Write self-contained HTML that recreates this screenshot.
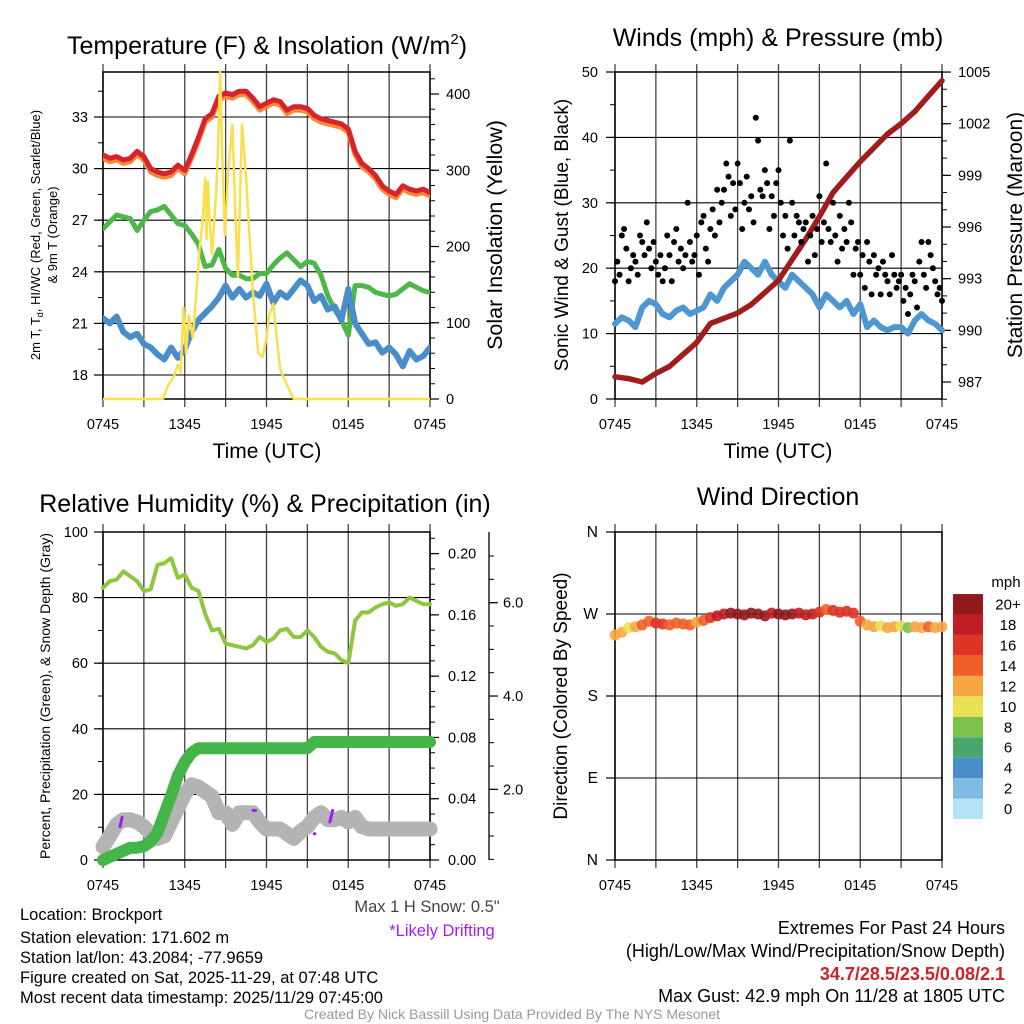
<!DOCTYPE html>
<html><head><meta charset="utf-8"><title>NYS Mesonet Brockport Meteogram</title>
<style>
html,body{margin:0;padding:0;background:#fff;}
svg{display:block;font-family:"Liberation Sans",Arial,sans-serif;}
</style></head>
<body>
<svg id="chart" xmlns="http://www.w3.org/2000/svg" width="1024" height="1024" viewBox="0 0 1024 1024">
<rect width="1024" height="1024" fill="#fff"/>
<g id="layer"></g>
<text x="267" y="54" font-size="25" text-anchor="middle">Temperature (F) &amp; Insolation (W/m<tspan dy="-10" font-size="15">2</tspan><tspan dy="10">)</tspan></text>
<text x="778" y="46" font-size="25" text-anchor="middle">Winds (mph) &amp; Pressure (mb)</text>
<text x="265" y="512" font-size="25" text-anchor="middle">Relative Humidity (%) &amp; Precipitation (in)</text>
<text x="778" y="505" font-size="25" text-anchor="middle">Wind Direction</text>
<text x="267" y="458" font-size="21" text-anchor="middle">Time (UTC)</text>
<text x="778" y="458" font-size="21" text-anchor="middle">Time (UTC)</text>
<text transform="translate(40,235) rotate(-90)" font-size="13" text-anchor="middle">2m T, T<tspan font-size="9" dy="3">d</tspan><tspan dy="-3">, HI/WC (Red, Green, Scarlet/Blue)</tspan></text>
<text transform="translate(57,235) rotate(-90)" font-size="13" text-anchor="middle">&amp; 9m T (Orange)</text>
<text transform="translate(502,235) rotate(-90)" font-size="21.5" text-anchor="middle">Solar Insolation (Yellow)</text>
<text transform="translate(568,235) rotate(-90)" font-size="19" text-anchor="middle">Sonic Wind &amp; Gust (Blue, Black)</text>
<text transform="translate(1022,235) rotate(-90)" font-size="21" text-anchor="middle">Station Pressure (Maroon)</text>
<text transform="translate(50,696) rotate(-90)" font-size="14" text-anchor="middle">Percent, Precipitation (Green), &amp; Snow Depth (Gray)</text>
<text transform="translate(567,696) rotate(-90)" font-size="19" text-anchor="middle">Direction (Colored By Speed)</text>
<text x="1006" y="587" font-size="15" text-anchor="middle">mph</text>
<g>
<g font-size="16.5">
<text x="20" y="920">Location: Brockport</text>
<text x="20" y="943">Station elevation: 171.602 m</text>
<text x="20" y="963">Station lat/lon: 43.2084; -77.9659</text>
<text x="20" y="983">Figure created on Sat, 2025-11-29, at 07:48 UTC</text>
<text x="20" y="1003">Most recent data timestamp: 2025/11/29 07:45:00</text>
<text x="427" y="912" text-anchor="middle" fill="#444">Max 1 H Snow: 0.5"</text>
<text x="442" y="936" text-anchor="middle" fill="#a020f0">*Likely Drifting</text>
</g>
<g font-size="18">
<text x="1005" y="934" text-anchor="end">Extremes For Past 24 Hours</text>
<text x="1005" y="957" text-anchor="end">(High/Low/Max Wind/Precipitation/Snow Depth)</text>
<text x="1005" y="980" text-anchor="end" fill="#cc2229" font-weight="bold">34.7/28.5/23.5/0.08/2.1</text>
<text x="1005" y="1002" text-anchor="end">Max Gust: 42.9 mph On 11/28 at 1805 UTC</text>
</g>
</g>
<text x="512" y="1019" font-size="14" text-anchor="middle" fill="#999">Created By Nick Bassill Using Data Provided By The NYS Mesonet</text>
</svg>
<script>
const timeLabels = ["0745","1345","1945","0145","0745"];
const hours49 = [0,0.5,1,1.5,2,2.5,3,3.5,4,4.5,5,5.5,6,6.5,7,7.5,8,8.5,9,9.5,10,10.5,11,11.5,12,12.5,13,13.5,14,14.5,15,15.5,16,16.5,17,17.5,18,18.5,19,19.5,20,20.5,21,21.5,22,22.5,23,23.5,24];
const tempRed = [30.8,30.6,30.7,30.5,30.6,31.0,30.7,30.0,29.8,29.7,29.8,30.2,29.9,30.8,31.8,32.9,33.2,34.2,34.4,34.3,34.5,34.5,34.1,33.6,33.8,34.0,33.9,33.4,33.6,33.6,33.5,33.1,32.9,32.8,32.7,32.6,32.3,31.0,30.3,30.0,29.6,29.0,28.7,28.5,29.0,28.8,28.7,28.8,28.6];
const temp9mOrange = [30.6,30.4,30.5,30.3,30.4,30.8,30.5,29.8,29.6,29.5,29.6,30.0,29.7,30.6,31.6,32.7,33.0,34.0,34.2,34.1,34.3,34.3,33.9,33.4,33.6,33.8,33.7,33.2,33.4,33.4,33.3,32.9,32.7,32.6,32.5,32.4,32.1,30.8,30.1,29.8,29.4,28.8,28.5,28.3,28.8,28.6,28.5,28.6,28.4];
const dewGreen = [26.5,26.9,27.3,27.2,27.1,26.4,27.0,27.5,27.6,27.8,27.3,26.8,26.7,26.2,25.6,24.3,24.4,25.3,24.2,23.8,23.8,23.6,23.6,23.9,23.9,24.4,24.8,25.1,24.7,24.3,24.6,24.5,23.8,22.6,21.8,21.2,20.3,23.2,23.2,23.1,22.8,22.7,22.6,22.7,23.0,23.3,23.1,22.9,22.8];
const windChillBlue = [21.3,21.0,21.4,20.5,20.2,20.4,19.8,19.6,19.2,18.9,19.6,19.0,19.5,20.5,21.2,21.6,22.0,22.5,23.2,22.5,23.0,22.5,22.8,22.6,23.3,22.2,22.8,22.5,23.0,23.5,23.2,22.3,22.6,21.8,22.0,21.2,23.0,21.0,20.4,19.8,19.9,19.3,19.6,19.2,18.5,19.4,18.9,19.1,19.6];
const solarHours = [0,4.4,4.7,5.2,5.5,5.7,5.9,6.1,6.3,6.6,6.9,7.1,7.3,7.5,7.6,7.7,7.8,8.0,8.3,8.45,8.6,8.75,8.95,9.2,9.5,9.7,9.9,10.2,10.5,10.7,11.0,11.4,11.7,12.0,12.2,12.5,12.7,13.0,13.2,13.6,14.0,24];
const solarVals = [0,0,15,30,45,35,120,60,110,80,150,200,230,290,210,285,240,190,270,330,430,320,215,300,360,250,160,360,290,230,140,60,55,80,110,125,90,40,30,15,0,0];
const hours25 = [0,1,2,3,4,5,6,7,8,9,10,11,12,13,14,15,16,17,18,19,20,21,22,23,24];
const pressureVals = [987.3,987.2,987.0,987.5,987.9,988.6,989.3,990.4,990.7,991.0,991.5,992.2,992.9,994.1,995.3,996.6,998.0,998.9,999.8,1000.6,1001.4,1002.0,1002.7,1003.6,1004.5];
const sonicWind = [11.5,12.5,12,11,14,15,14.5,13,12.5,13.5,14,13,13.5,14,16,15,17,18,19,21,20,19,21,19,18,17,19,18,17,16,14,16,15,14,15,13,14.5,11,12,11,10.5,11,11,10,12,13,12,11.5,10.5];
const gustVals = [18,21,19,25,26,23,18,20,22,21,19,25,24,22,27,23,20,24,21,19,22,18,20,25,22,18,24,26,21,23,20,22,30,24,21,22,25,19,27,28,23,21,26,29,25,32,27,30,32,36,34,28,33,29,36,33,26,30,34,29,31,27,43,39.5,32,31,35,33,26,31,28,33,35,30,25,28,23,39.5,30,25,28,27,24,26,27,21,25,28,22,26,31,24,27,36,26,24,30,25,21,28,23,26,24,30,27,19,23,24,19,22,17,24,21,16,22,19,20,16,21,19,18,16,22,19,17,18,19,15,17,13,16,19,18,14,21,24,19,17,24,22,20,18,16,17,15];
const rhVals = [83,85,85.5,88,86.5,85,82,82.5,90,90.5,92,86,87,83,82,75,70,70.5,66,65.5,65,64.5,65.5,68,66.5,67.5,70,70.5,68,68,70,68,65,63.5,63,61,60,73,75.5,75.5,77,78,78.5,77.5,78,80,79,78,78];
const precipVals = [0,0.002,0.004,0.006,0.008,0.008,0.009,0.012,0.018,0.030,0.042,0.055,0.064,0.070,0.073,0.073,0.073,0.073,0.073,0.073,0.073,0.073,0.073,0.073,0.073,0.073,0.073,0.073,0.073,0.073,0.073,0.077,0.077,0.077,0.077,0.077,0.077,0.077,0.077,0.077,0.077,0.077,0.077,0.077,0.077,0.077,0.077,0.077,0.077];
const snowVals = [0.77,1.0,1.25,1.35,1.35,1.3,1.2,1.05,0.95,1.0,1.3,1.6,1.9,2.1,2.05,1.95,1.85,1.5,1.5,1.25,1.5,1.5,1.5,1.3,1.15,1.15,1.15,1.05,0.95,1.1,1.2,1.4,1.5,1.35,1.35,1.4,1.3,1.4,1.2,1.15,1.15,1.15,1.15,1.15,1.15,1.15,1.15,1.15,1.15];
const driftHours = [1.25,1.4,11.0,11.2,15.5,15.55,16.65,16.85];
const driftVals = [1.2,1.4,1.55,1.55,1.05,1.05,1.3,1.55];
const dirVals = [247,250,255,256,258,262,260,259,258,260,259,258,261,263,266,268,270,271,270,269,271,270,268,271,270,269,270,271,269,270,272,275,274,272,273,271,262,258,256,257,255,256,257,255,256,255,256,255,256];
const dirSpeeds = [12,12,11,12,14,15,16,16,15,14,14,14,13,15,17,18,19,20,21,20,21,20,20,19,20,21,20,19,18,18,16,15,16,17,17,16,14,12,12,11,12,12,11,9,12,13,14,13,12];
const colorLevels = ["0","2","4","6","8","10","12","14","16","18","20+"];
const colorFills = ["#b7e3f7","#7fbae3","#4a8ec7","#4aa66f","#7cc24b","#e8e156","#f6a743","#ef6029","#dc3526","#be1e24","#921a1d"];

const NS = "http://www.w3.org/2000/svg";
const layer = document.getElementById("layer");
function mk(tag, attrs, parent){const e=document.createElementNS(NS,tag);for(const k in attrs)e.setAttribute(k,attrs[k]);(parent||layer).appendChild(e);return e;}
const xA = t => 103 + t*327/24;
const xB = t => 615 + t*327/24;
const yT = v => 375 - (v-18)*17.2;
const yS = v => 399 - v*0.7625;
const yW = v => 399 - v*6.54;
const yP = v => 382 - (v-987)*17.22;
const yR = v => 860 - v*3.28;
const yPr = v => 860 - v*1532;
const ySn = v => 882.7 - v*46.67;
const yD = v => 860 - v*328/360;

function path(ts, vs, xf, yf, color, w, name){
  let d="";ts.forEach((t,i)=>{d+=(i?"L":"M")+xf(t).toFixed(1)+","+yf(vs[i]).toFixed(1);});
  const p=mk("path",{d:d,fill:"none",stroke:color,"stroke-width":w,"stroke-linejoin":"round","stroke-linecap":"round"});
  
  
  return p;
}
function frame(x0,y0,w,h,name){
  const g=mk("g",{});
  
  
  for(let k=0;k<=8;k++){const x=x0+k*w/8;const l=mk("line",{x1:x,y1:y0-8,x2:x,y2:y0+h+8,stroke:"#444","stroke-width":1.3},g);
    
    }
  for(let k=0;k<5;k++){const tx=mk("text",{x:x0+k*w/4,y:y0+h+30,"font-size":14.5,"text-anchor":"middle"},g);tx.textContent=timeLabels[k];
    
    }
  mk("rect",{x:x0,y:y0,width:w,height:h,fill:"none",stroke:"#000","stroke-width":1.5},g);
  return g;
}
function yaxis(x, side, vals, yf, labels, minors, y0, y1, name, lx, fs){
  const g=mk("g",{});
  
  
  const dir = side==="left"?-1:1;
  minors.forEach(v=>{const y=yf(v);if(y<y0-0.5||y>y1+0.5)return;mk("line",{x1:x,y1:y,x2:x+dir*5,y2:y,stroke:"#000","stroke-width":1},g);});
  vals.forEach((v,i)=>{const y=yf(v);mk("line",{x1:x,y1:y,x2:x+dir*9,y2:y,stroke:"#000","stroke-width":1.2},g);
    const t=mk("text",{x:lx,y:y+5,"font-size":fs||14.5,"text-anchor":side==="left"?"end":"start"},g);t.textContent=labels[i];
    
    });
}
function hgrid(x0,w,ys){ys.forEach(y=>{const l=mk("line",{x1:x0,y1:y,x2:x0+w,y2:y,stroke:"#000","stroke-width":1.1});
  
  });}
function range(a,b,s){const r=[];for(let v=a;v<=b+1e-9;v+=s)r.push(+v.toFixed(4));return r;}

/* Panel 1: temperature */
frame(103,72,327,327,"temp-panel");
const tMaj=[18,21,24,27,30,33];
hgrid(103,327,tMaj.map(yT));
yaxis(103,"left",tMaj,yT,tMaj.map(String),range(16.5,34.5,1.5),72,399,"temp-left-axis",88);
yaxis(430,"right",[0,100,200,300,400],yS,["0","100","200","300","400"],range(0,420,20),72,399,"solar-right-axis",446);
const clipA=mk("clipPath",{id:"clipA"});mk("rect",{x:103,y:66,width:327,height:340},clipA);
const gA=mk("g",{"clip-path":"url(#clipA)"});
[[hours49,temp9mOrange,"#f7883a",5,"temp-9m-line"],[hours49,tempRed,"#d7232a",5,"temp-2m-line"],[hours49,dewGreen,"#4db848",5,"dewpoint-line"],[hours49,windChillBlue,"#4a8ec9",6,"windchill-line"]].forEach(s=>{
  gA.appendChild(path(s[0],s[1],xA,yT,s[2],s[3],s[4]));});
gA.appendChild(path(solarHours,solarVals,xA,yS,"#f8e04e",2.5,"solar-line"));

/* Panel 2: wind & pressure */
frame(615,72,327,327,"wind-panel");
const wMaj=[0,10,20,30,40,50];
hgrid(615,327,wMaj.map(yW));
yaxis(615,"left",wMaj,yW,wMaj.map(String),range(0,50,5),72,399,"wind-left-axis",598);
yaxis(942,"right",[987,990,993,996,999,1002,1005],yP,["987","990","993","996","999","1002","1005"],range(986,1005,1),72,399,"pressure-right-axis",958);
layer.appendChild(path(hours49,sonicWind,xB,yW,"#4f97d2",6,"sonic-wind-line"));
layer.appendChild(path(hours25,pressureVals,xB,yP,"#a01d1d",5.5,"pressure-line"));
gustVals.forEach((v,i)=>{const c=mk("circle",{cx:xB(i/6),cy:yW(v),r:3,fill:"#000"});
  
  });

/* Panel 3: RH, precip, snow */
frame(103,532,327,328,"rh-panel");
const rMaj=[0,20,40,60,80,100];
hgrid(103,327,rMaj.map(yR));
yaxis(103,"left",rMaj,yR,rMaj.map(String),range(0,100,10),532,860,"rh-left-axis",88);
yaxis(430,"right",[0,0.04,0.08,0.12,0.16,0.20],yPr,["0.00","0.04","0.08","0.12","0.16","0.20"],range(0,0.21,0.01),532,860,"precip-right-axis",448);
mk("line",{x1:489,y1:532,x2:489,y2:860,stroke:"#000","stroke-width":1.3});
yaxis(489,"right",[2,4,6],ySn,["2.0","4.0","6.0"],range(0.5,7,0.5),532,860,"snow-right-axis",503);
layer.appendChild(path(hours49,snowVals,xA,ySn,"#b4b4b4",15,"snow-depth-line"));
layer.appendChild(path(hours49,precipVals,xA,yPr,"#44b649",12,"precip-line"));
layer.appendChild(path(hours49,rhVals,xA,yR,"#8dc63f",4,"rh-line"));
for(let i=0;i<driftHours.length;i+=2){layer.appendChild(path(driftHours.slice(i,i+2),driftVals.slice(i,i+2),xA,ySn,"#a020f0",3,"drift-mark"));}

/* Panel 4: wind direction */
frame(615,532,327,328,"direction-panel");
const dMaj=[0,90,180,270,360];
hgrid(615,327,dMaj.map(yD));
yaxis(615,"left",dMaj,yD,["N","E","S","W","N"],[],532,860,"direction-left-axis",598,15.5);
function colorFor(s){let k=Math.floor(s/2);if(k>10)k=10;if(k<0)k=0;return colorFills[k];}
dirVals.forEach((d,i)=>{const c=mk("circle",{cx:xB(hours49[i]),cy:yD(d),r:5.5,fill:colorFor(dirSpeeds[i]),"fill-opacity":0.9});
  
  });
const cb=mk("g",{});


colorLevels.forEach((lab,i)=>{const y=819-(i+1)*20.45;
  const r=mk("rect",{x:953,y:y,width:30,height:20.45,fill:colorFills[i]},cb);
  
  
  const t=mk("text",{x:1008,y:y+15.5,"font-size":15,"text-anchor":"middle"},cb);t.textContent=lab;
  
  });
</script>
</body></html>
